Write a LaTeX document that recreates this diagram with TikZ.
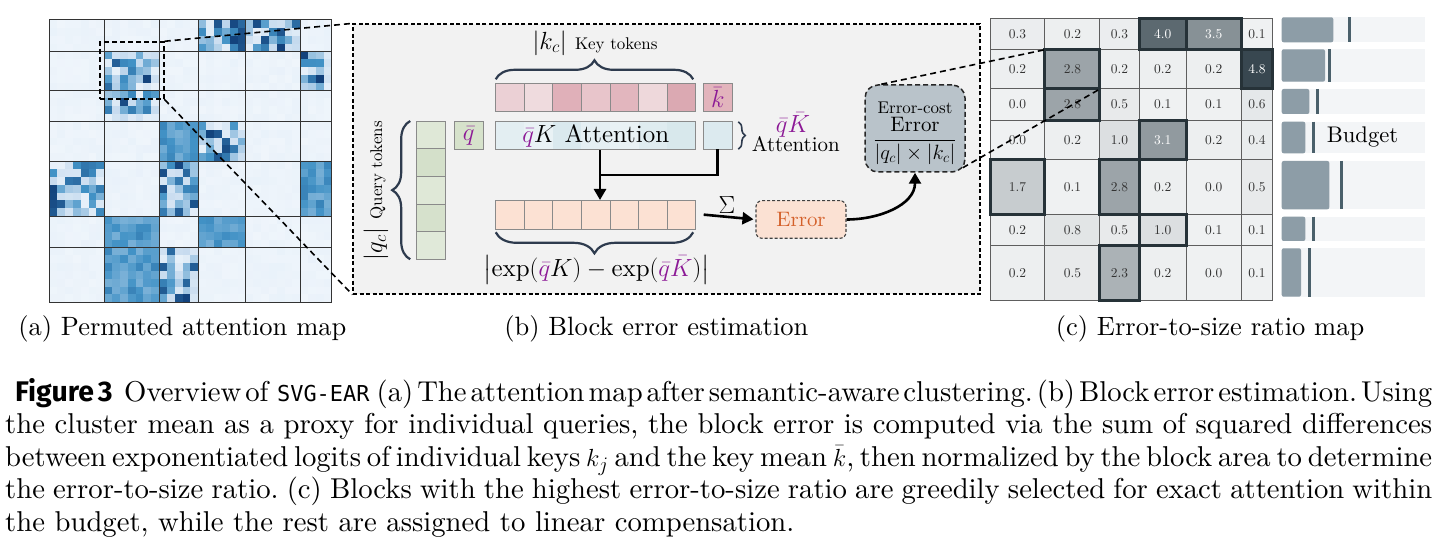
\documentclass[tikz,border=0pt]{standalone}
\usepackage{fontspec}
\usepackage{amsmath}
\usetikzlibrary{decorations.pathreplacing,arrows.meta}
\setmainfont{lmroman10-regular.otf}[BoldFont=lmroman10-bold.otf, ItalicFont=lmroman10-italic.otf, BoldItalicFont=lmroman10-bolditalic.otf]
\newfontfamily\figsans{Fira Sans}
\newfontfamily\monosans{DejaVu Sans Mono}
\definecolor{heatline}{HTML}{333333}
\definecolor{panelbg}{HTML}{F2F2F2}
\definecolor{cellgray}{HTML}{8A8A8A}
\definecolor{bracecol}{HTML}{2E3B4E}
\definecolor{mpurple}{RGB}{140,25,150}
\definecolor{k1}{HTML}{EBD0D5}
\definecolor{k2}{HTML}{EFDBDE}
\definecolor{k3}{HTML}{E0B0B9}
\definecolor{k4}{HTML}{E8C5CB}
\definecolor{k5}{HTML}{E2B6BE}
\definecolor{k6}{HTML}{EED8DB}
\definecolor{k7}{HTML}{DBA9B2}
\definecolor{q1}{HTML}{DFE8D7}
\definecolor{q2}{HTML}{D4E0CA}
\definecolor{q3}{HTML}{DFE8D7}
\definecolor{q4}{HTML}{D6E1CC}
\definecolor{q5}{HTML}{E0E9D9}
\definecolor{a1}{HTML}{E3EEF2}
\definecolor{a2}{HTML}{E9F2F5}
\definecolor{a3}{HTML}{DAE9EE}
\definecolor{a4}{HTML}{E5EFF3}
\definecolor{a5}{HTML}{E9F2F5}
\definecolor{a6}{HTML}{DFECF0}
\definecolor{a7}{HTML}{D8E8EC}
\definecolor{diffc}{HTML}{FCE1D3}
\definecolor{qbarc}{HTML}{D6E2CB}
\definecolor{kbarc}{HTML}{E2B4BC}
\definecolor{qkbarc}{HTML}{DCEAEF}
\definecolor{errfill}{HTML}{FBE1D3}
\definecolor{errtext}{HTML}{D4602A}
\definecolor{ecfill}{HTML}{B9C3CA}
\definecolor{cbase}{HTML}{EFF1F2}
\definecolor{cdark}{HTML}{32424B}
\definecolor{cgrid}{HTML}{5E5E5E}
\definecolor{hlc}{HTML}{263238}
\definecolor{numtext}{HTML}{333333}
\definecolor{barbg}{HTML}{F3F5F7}
\definecolor{barfill}{HTML}{8D9DA7}
\definecolor{bartick}{HTML}{4A606B}
\newcommand\fsBig{\fontsize{25}{30}\selectfont}
\newcommand\fsMid{\fontsize{21}{25}\selectfont}
\newcommand\fsSmall{\fontsize{17}{20}\selectfont}
\newcommand\fsNum{\fontsize{13.5}{16}\selectfont}
\newcommand\fsCap{\fontsize{28.8}{32}\selectfont}
\newcommand\fsSub{\fontsize{26.6}{32}\selectfont}
\newcommand\fsBudget{\fontsize{22.7}{26}\selectfont}
\newcommand\justline[2]{\hbox to #1{\frenchspacing\spaceskip=0.3333em plus 0.6em minus 0.22em\xspaceskip=\spaceskip #2}}
\begin{document}
\begin{tikzpicture}[x=1bp,y=-1bp,
  heatgrid/.style={draw=heatline, line width=1bp},
  zoombox/.style={draw=black, line width=1.5bp, dash pattern=on 5bp off 3bp, inner sep=0pt},
  zoomline/.style={draw=black, line width=1.6bp, dash pattern=on 6bp off 4bp},
  panelbox/.style={draw=black, fill=panelbg, line width=1.2bp, dash pattern=on 4bp off 2.5bp, inner sep=0pt},
  tok/.style={draw=cellgray, line width=0.9bp, inner sep=0pt, outer sep=0pt, minimum width=28.571bp, minimum height=28.4bp},
  brc/.style={decorate, draw=bracecol, line width=2.2bp},
  thickline/.style={line width=2.8bp},
  thickarrow/.style={line width=2.6bp, -{Triangle[length=11bp,width=12bp]}},
  errbox/.style={draw=black!75, fill=errfill, line width=1.1bp, dash pattern=on 3bp off 2bp, rounded corners=6bp, minimum width=90bp, minimum height=37.6bp, inner sep=0pt, text=errtext, font=\fsMid},
  ecbox/.style={draw=black!85, fill=ecfill, line width=1.5bp, dash pattern=on 5bp off 3bp, rounded corners=13bp, minimum width=100bp, minimum height=87bp, inner sep=0pt},
  hlbox/.style={draw=hlc, line width=3bp},
  capline/.style={anchor=base west, inner sep=0pt, font=\fsCap}
]
\useasboundingbox (0,0) rectangle (1444,554);
\fill[white] (0,0) rectangle (1444,554);

% ---------------- (a) heat map ----------------
\pgfmathsetseed{11}
\def\btype{{0,0,0,1,1,0, 0,1,0,0,0,1, 0,1,0,0,0,0, 0,0,2,1,0,0, 1,0,1,0,0,2, 0,2,0,2,0,0, 0,2,1,0,0,0}}
\foreach \cb/\csx/\cnx in {0/0/7,1/7/7,2/14/5,3/19/6,4/25/7,5/32/4}{
  \foreach \rb/\rsx/\rnx in {0/0/4,1/4/5,2/9/4,3/13/5,4/18/7,5/25/4,6/29/7}{
    \pgfmathtruncatemacro\ty{\btype[\rb*6+\cb]}
    \foreach \ii in {1,...,\cnx}{
      \foreach \jj in {1,...,\rnx}{
        \pgfmathsetmacro\rv{rnd}
        \ifcase\ty\relax
          \pgfmathsetmacro\tv{0.005+0.04*\rv}
        \or
          \pgfmathsetmacro\tv{0.06+0.88*\rv^1.1}
        \or
          \pgfmathsetmacro\tv{0.5+0.2*\rv}
        \fi
        \pgfmathtruncatemacro\Rc{\tv<0.3 ? 240-140*\tv : (\tv<0.65 ? 198-377.14*(\tv-0.3) : 66-165.71*(\tv-0.65))}
        \pgfmathtruncatemacro\Gc{\tv<0.3 ? 246-90*\tv : (\tv<0.65 ? 219-208.57*(\tv-0.3) : 146-280*(\tv-0.65))}
        \pgfmathtruncatemacro\Bc{\tv<0.3 ? 252-43.33*\tv : (\tv<0.65 ? 239-117.14*(\tv-0.3) : 198-260*(\tv-0.65))}
        \definecolor{hc}{RGB}{\Rc,\Gc,\Bc}
        \fill[hc] ({49.3+7.844*(\csx+\ii-1)},{20+7.842*(\rsx+\jj-1)}) rectangle +(8.1,8.1);
      }
    }
  }
}
\foreach \k in {0,7,14,19,25,32,36}{
  \draw[heatgrid] ({49.3+7.844*\k},20) -- ({49.3+7.844*\k},302.3);
}
\foreach \k in {0,4,9,13,18,25,29,36}{
  \draw[heatgrid] (49.3,{20+7.842*\k}) -- (331.7,{20+7.842*\k});
}
\node[zoombox, minimum width=64bp, minimum height=57bp] (zb) at (132,70.5) {};

% ---------------- (b) block error estimation ----------------
\node[panelbox, minimum width=627bp, minimum height=270bp] (pb) at (666.5,159) {};

% key tokens
\foreach \k/\col in {1/k1,2/k2,3/k3,4/k4,5/k5,6/k6,7/k7}{
  \node[tok, fill=\col] (key\k) at ({495.7+28.571*(\k-0.5)},97.5) {};
}
\node[tok, fill=kbarc, minimum width=29bp, text=mpurple, font=\fsBig] (kbar) at (717.8,97.5) {$\bar k$};
% attention row
\foreach \k/\col in {1/a1,2/a2,3/a3,4/a4,5/a5,6/a6,7/a7}{
  \fill[\col] ({495.7+28.571*(\k-1)},121.7) rectangle ({495.7+28.571*\k},149.3);
}
\node[draw=cellgray, line width=0.9bp, inner sep=0pt, minimum width=200bp, minimum height=27.6bp, font=\fsBig] (att) at (595.7,135.5) {$\textcolor{mpurple}{\bar q}K$\ Attention};
\node[tok, fill=qkbarc, minimum width=29bp, minimum height=27.6bp] (qkbar) at (717.8,135.5) {};
\node[tok, fill=qbarc, minimum width=29bp, minimum height=27.6bp, text=mpurple, font=\fsBig] (qbar) at (468.8,135.5) {$\bar q$};
% query tokens
\foreach \k/\col in {1/q1,2/q2,3/q3,4/q4,5/q5}{
  \node[tok, fill=\col, minimum width=29bp, minimum height=27.66bp] (qt\k) at (431.2,{121+27.66*(\k-0.5)}) {};
}
% difference row
\foreach \k in {1,...,7}{
  \node[tok, fill=diffc, minimum height=29.3bp] (diff\k) at ({495.7+28.571*(\k-0.5)},214.65) {};
}
% braces
\draw[brc, decoration={brace, amplitude=19bp}] ([yshift=4bp]key1.north west) -- ([yshift=4bp,xshift=-2.5bp]key7.north east);
\draw[brc, decoration={brace, amplitude=21bp}] ([yshift=-3bp,xshift=-2.5bp]diff7.south east) -- ([yshift=-3bp]diff1.south west);
\draw[brc, decoration={brace, amplitude=18bp}] ([xshift=-6.5bp]qt5.south west) -- ([xshift=-6.5bp]qt1.north west);
\draw[brc, line width=1.6bp, decoration={brace, amplitude=7bp}] ([xshift=6bp]qkbar.north east) -- ([xshift=6bp]qkbar.south east);
% labels
\node[font=\fsBig] (klab) at (595,43) {$|k_c|$ {\fsSmall Key tokens}};
\node[font=\fsBig, rotate=90] (qlab) at (376,190.5) {$|q_c|$ {\fsSmall Query tokens}};
\node[font=\fsBig] (explab) at (596.5,270) {$\bigl|\exp(\textcolor{mpurple}{\bar q}K)-\exp(\textcolor{mpurple}{\bar q\bar K})\bigr|$};
\node[font=\fsBig, text=mpurple] (qkK) at (793,125) {$\bar q\bar K$};
\node[font=\fsMid, anchor=base west, inner sep=0pt] (attlab) at (751.7,151.7) {Attention};
% arrows
\coordinate (arrs) at (600,150.5);
\coordinate (junc) at (600,175);
\draw[thickline] (qkbar.south) |- (junc);
\draw[thickarrow] (arrs) -- (arrs |- diff4.north);
\node[errbox] (err) at (801,219.5) {Error};
\node[font=\fontsize{26}{30}\selectfont] (sig) at (727,205) {$\Sigma$};
\draw[thickarrow, shorten >=2bp] ([xshift=8bp]diff7.east) -- (err.west);
\node[ecbox] (ec) at (915,128.5) {};
\node[font=\fsSmall, inner sep=0pt] (eclab) at (915,108) {Error-cost};
\node[font=\fsMid, inner sep=0pt] (ecfrac) at (915,141) {$\dfrac{\text{Error}}{|q_c|\times|k_c|}$};
\draw[thickarrow] (err.east) to[out=0,in=-90] (ec.south);

% ---------------- (c) error-to-size ratio map ----------------
\def\colS{{0,7,14,19,25,32,36}}
\def\rowS{{0,4,9,13,18,25,29,36}}
\foreach \rr/\cc/\vv/\pp in {
  0/0/0.3/2, 0/1/0.2/1, 0/2/0.3/2, 0/3/4.0/78, 0/4/3.5/55, 0/5/0.1/0,
  1/0/0.2/1, 1/1/2.8/44, 1/2/0.2/1, 1/3/0.2/1, 1/4/0.2/1, 1/5/4.8/97,
  2/0/0.0/0, 2/1/2.8/44, 2/2/0.5/4, 2/3/0.1/0, 2/4/0.1/0, 2/5/0.6/5,
  3/0/0.0/0, 3/1/0.2/1, 3/2/1.0/10, 3/3/3.1/50, 3/4/0.2/1, 3/5/0.4/3,
  4/0/1.7/21, 4/1/0.1/0, 4/2/2.8/44, 4/3/0.2/1, 4/4/0.0/0, 4/5/0.5/4,
  5/0/0.2/1, 5/1/0.8/7, 5/2/0.5/4, 5/3/1.0/10, 5/4/0.1/0, 5/5/0.1/0,
  6/0/0.2/1, 6/1/0.5/4, 6/2/2.3/36, 6/3/0.2/1, 6/4/0.0/0, 6/5/0.1/0}{
  \pgfmathsetmacro\xa{990+7.85*\colS[\cc]}
  \pgfmathsetmacro\xb{990+7.85*\colS[\cc+1]}
  \pgfmathsetmacro\ya{18.3+7.85*\rowS[\rr]}
  \pgfmathsetmacro\yb{18.3+7.85*\rowS[\rr+1]}
  \fill[cdark!\pp!cbase] (\xa,\ya) rectangle (\xb,\yb);
  \ifnum\pp>47 \def\tcol{white}\else\def\tcol{numtext}\fi
  \node[text=\tcol, font=\fsNum, inner sep=0pt] (cell-\rr-\cc) at ({(\xa+\xb)/2},{(\ya+\yb)/2}) {\vv};
}
\foreach \k in {0,7,14,19,25,32,36}{
  \draw[cgrid, line width=1bp] ({990+7.85*\k},18.3) -- ({990+7.85*\k},300.9);
}
\foreach \k in {0,4,9,13,18,25,29,36}{
  \draw[cgrid, line width=1bp] (990,{18.3+7.85*\k}) -- (1272.6,{18.3+7.85*\k});
}
\foreach \rr/\cc in {0/3,0/4,1/1,1/5,2/1,3/3,4/0,4/2,5/3,6/2}{
  \pgfmathsetmacro\xa{990+7.85*\colS[\cc]}
  \pgfmathsetmacro\xb{990+7.85*\colS[\cc+1]}
  \pgfmathsetmacro\ya{18.3+7.85*\rowS[\rr]}
  \pgfmathsetmacro\yb{18.3+7.85*\rowS[\rr+1]}
  \draw[hlbox] (\xa,\ya) rectangle (\xb,\yb);
}
\coordinate (cNW) at (1044.95,49.7);
\coordinate (cSE) at (1099.9,89);

% budget bars
\foreach \ya/\yb/\fe/\tk in {17.3/42.3/1333.3/1349.3, 49.3/81.7/1325/1329.3, 89/114/1309.3/1317.3, 121.7/153.3/1305.3/1313.3, 161/209.3/1329.3/1341.3, 216.7/241/1305.3/1313.3, 248.3/296.7/1301/1309.3}{
  \fill[barbg] (1281.7,\ya) rectangle (1425,\yb);
  \fill[barfill, rounded corners=2bp] (1281.7,\ya) rectangle (\fe,\yb);
  \draw[bartick, line width=2.6bp] (\tk,\ya) -- (\tk,\yb);
}
\node[font=\fsBudget] (budget) at (1362.5,137) {Budget};

% zoom connectors
\draw[zoomline] (zb.north east) -- (pb.north west);
\draw[zoomline] (zb.south east) -- (pb.south west);
\draw[zoomline] ([xshift=17bp]ec.north west) -- (cNW);
\draw[zoomline] ([xshift=-3bp,yshift=5bp]ec.south east) -- (cSE);

% sub-captions
\node[font=\fsSub] (capa) at (182.3,329) {(a) Permuted attention map};
\node[font=\fsSub] (capb) at (656.3,329) {(b) Block error estimation};
\node[font=\fsSub] (capc) at (1210,329) {(c) Error-to-size ratio map};

% caption
\node[capline] (cap1) at (15,401) {\justline{1417bp}{{\figsans\bfseries\fontsize{28.5}{32}\selectfont Figure 3}\hskip 0.4em Overview of\hskip 0.3em{\monosans\fontsize{22}{32}\selectfont SVG-EAR}\hskip 0.25em (a) The attention map after semantic-aware clustering. (b) Block error estimation. Using}};
\node[capline] (cap2) at (5,433.5) {\justline{1427bp}{the cluster mean as a proxy for individual queries, the block error is computed via the sum of squared differences}};
\node[capline] (cap3) at (5,466) {\justline{1427bp}{between exponentiated logits of individual keys $k_j$ and the key mean $\bar{k}$, then normalized by the block area to determine}};
\node[capline] (cap4) at (5,498.5) {\justline{1427bp}{the error-to-size ratio. (c) Blocks with the highest error-to-size ratio are greedily selected for exact attention within}};
\node[capline] (cap5) at (5,531) {the budget, while the rest are assigned to linear compensation.};
\end{tikzpicture}
\end{document}
